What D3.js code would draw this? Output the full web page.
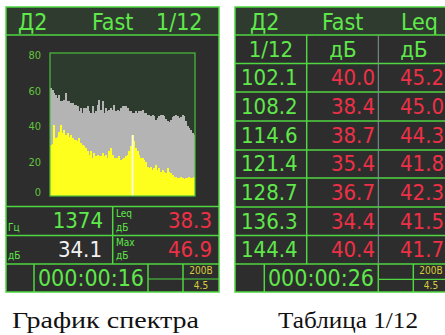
<!DOCTYPE html>
<html>
<head>
<meta charset="utf-8">
<script src="https://cdn.jsdelivr.net/npm/d3@7"></script>
<style>
  html, body { margin: 0; padding: 0; background: #ffffff; }
  svg { display: block; }
</style>
</head>
<body>
<svg id="chart" width="445" height="335"></svg>
<script>
// ---- spectrum data (1/12 octave bands, dB) ----
const yTicks = [0, 20, 40, 60, 80];
const maxLevels = [
  60.7, 59.7, 57.9, 56.9, 55.0, 56.9, 53.1, 53.1, 54.1, 57.9,
  53.1, 53.1, 52.2, 52.2, 51.3, 51.3, 50.3, 47.5, 49.4, 46.6,
  49.4, 49.4, 50.3, 47.5, 46.6, 50.3, 46.6, 47.5, 51.3, 54.1,
  48.5, 53.1, 46.6, 49.4, 47.5, 48.5, 49.4, 48.5, 51.3, 47.5,
  48.5, 47.5, 49.4, 50.3, 50.7, 50.3, 49.4, 47.5, 47.5, 46.6,
  46.6, 47.5, 46.6, 47.5, 47.5, 48.5, 46.6, 46.6, 45.6, 45.6,
  44.7, 45.6, 44.7, 42.8, 43.8, 44.7, 45.6, 45.6, 44.7, 43.2,
  41.9, 41.3, 42.8, 44.3, 45.1, 45.6, 45.1, 43.8, 44.3, 45.6,
  44.7, 41.9, 39.1, 38.1, 37.2, 35.3, 34.4
];
const currentLevels = [
  28.7, 29.3, 40.0, 32.5, 33.4, 36.2, 40.0, 35.3, 37.2, 34.4,
  35.3, 33.4, 34.4, 32.5, 31.5, 31.5, 30.6, 32.5, 29.7, 28.7,
  27.8, 26.9, 25.0, 23.1, 25.0, 21.2, 24.0, 22.2, 23.1, 22.2,
  22.2, 24.0, 22.2, 23.1, 21.2, 25.0, 26.9, 23.1, 21.2, 21.2,
  21.2, 22.2, 20.3, 20.7, 21.2, 22.2, 23.1, 25.0, 27.8, 34.1,
  30.6, 26.9, 25.0, 23.1, 21.2, 21.2, 20.3, 19.3, 16.5, 15.6,
  16.5, 14.6, 15.6, 17.5, 14.6, 15.6, 13.7, 14.6, 13.7, 12.8,
  15.6, 13.7, 12.8, 11.8, 10.9, 10.9, 10.0, 10.0, 10.9, 10.0,
  9.4, 10.0, 10.0, 10.5, 10.0, 10.0, 10.5
];
const cursorBand = 49;
const cursorFreq = "1374";
const cursorLevel = "34.1";
const leqLevel = "38.3";
const maxLevel = "46.9";
const spectrumTime = "000:00:16";

// ---- table data ----
const tableFreqs = ["102.1", "108.2", "114.6", "121.4", "128.7", "136.3", "144.4"];
const tableFast  = ["40.0", "38.4", "38.7", "35.4", "36.7", "34.4", "40.4"];
const tableLeq   = ["45.2", "45.0", "44.3", "41.8", "42.3", "41.5", "41.7"];
const tableTime = "000:00:26";

const battery = "200B";
const voltage = "4.5";

// ---- palette ----
const C = {
  frame: "#4fd641",
  header: "#2f3b2f",
  panel: "#2d2d2d",
  plot: "#2c3b2d",
  green: "#5fe84a",
  red: "#ee3046",
  white: "#f2f2f2",
  grey: "#b4b4b4",
  yellow: "#ffff1e",
  small: "#d8cc3a",
  tick: "#62c33c",
  divider: "#7f9b94"
};
const DISPLAY_FONT = '"DejaVu Sans Condensed", "DejaVu Sans", sans-serif';
const CAPTION_FONT = '"Liberation Serif", "DejaVu Serif", "Times New Roman", serif';

const svg = d3.select("#chart");

function line(g, x1, y1, x2, y2, color, w) {
  g.append("line").attr("x1", x1).attr("y1", y1).attr("x2", x2).attr("y2", y2)
    .attr("stroke", color || C.frame).attr("stroke-width", w || 1.5);
}
function text(g, x, y, str, size, color, anchor, family) {
  return g.append("text").attr("x", x).attr("y", y)
    .attr("font-family", family || DISPLAY_FONT)
    .attr("font-stretch", family ? null : "condensed")
    .attr("font-size", size).attr("fill", color).attr("text-anchor", anchor || "start").text(str);
}

// ================= left panel: spectrum =================
const L = svg.append("g");
const lx0 = 6, lx1 = 219, panelTop = 7, hdrB = 35, chartB = 206.5, r1 = 235.5, r2 = 264, bot = 292;

L.append("rect").attr("x", lx0).attr("y", panelTop).attr("width", lx1 - lx0).attr("height", bot - panelTop).attr("fill", C.panel);
L.append("rect").attr("x", lx0).attr("y", panelTop).attr("width", lx1 - lx0).attr("height", hdrB - panelTop).attr("fill", C.header);

text(L, 18, 30, "Д2", 23, C.green);
text(L, 92, 30, "Fast", 23, C.green);
text(L, 156, 30, "1/12", 23, C.green);

// plot area
const plot = { x0: 50, x1: 195, y0: 53, y1: 196 };
L.append("rect").attr("x", plot.x0).attr("y", plot.y0).attr("width", plot.x1 - plot.x0)
  .attr("height", plot.y1 - plot.y0).attr("fill", C.plot);

const x = d3.scaleBand().domain(d3.range(maxLevels.length)).range([plot.x0, plot.x1]).padding(0);
const y = d3.scaleLinear().domain([0, 80]).range([plot.y1, plot.y0 + 0.5]);

const bars = L.append("g").attr("shape-rendering", "crispEdges");
bars.selectAll("rect.max").data(maxLevels).join("rect").attr("class", "max")
  .attr("x", (d, i) => x(i)).attr("width", x.bandwidth() + 0.4)
  .attr("y", d => y(d)).attr("height", d => y(0) - y(d)).attr("fill", C.grey);
bars.selectAll("rect.cur").data(currentLevels).join("rect").attr("class", "cur")
  .attr("x", (d, i) => x(i)).attr("width", x.bandwidth() + 0.4)
  .attr("y", d => y(d)).attr("height", d => y(0) - y(d)).attr("fill", C.yellow);

// cursor
L.append("rect").attr("x", x(cursorBand)).attr("width", x.bandwidth())
  .attr("y", y(+cursorLevel)).attr("height", y(0) - y(+cursorLevel)).attr("fill", "#ffffff");

L.append("rect").attr("x", plot.x0).attr("y", plot.y0).attr("width", plot.x1 - plot.x0)
  .attr("height", plot.y1 - plot.y0).attr("fill", "none").attr("stroke", "#48c23a").attr("stroke-width", 1.2);

// y tick labels
const axis = d3.axisLeft(y).tickValues(yTicks).tickSize(0).tickPadding(9);
const ag = L.append("g").attr("transform", `translate(${plot.x0},0)`).call(axis);
ag.select(".domain").remove();
ag.selectAll("text").attr("font-family", DISPLAY_FONT).attr("fill", C.tick).attr("font-size", 11)
  .attr("dy", d => d === 0 ? "-0.05em" : "0.45em");

// stat rows
text(L, 8, 231, "Гц", 10, C.green);
text(L, 103, 228, cursorFreq, 22, C.green, "end");
text(L, 116, 217, "Leq", 10, C.green);
text(L, 116, 231, "дБ", 10, C.green);
text(L, 212, 228, leqLevel, 22, C.red, "end");

text(L, 8, 259, "дБ", 10, C.green);
text(L, 102, 257, cursorLevel, 22, C.white, "end");
text(L, 116, 246, "Max", 10, C.green);
text(L, 116, 259, "дБ", 10, C.green);
text(L, 212, 257, maxLevel, 22, C.red, "end");

text(L, 91, 286, spectrumTime, 23, C.green, "middle");
text(L, 201, 274, battery, 10, C.small, "middle");
text(L, 201, 289, voltage, 10, C.small, "middle");

// grid lines
line(L, lx0, hdrB, lx1, hdrB);
line(L, lx0, chartB, lx1, chartB);
line(L, lx0, r1, lx1, r1);
line(L, lx0, r2, lx1, r2);
line(L, 112.7, chartB, 112.7, r2);
line(L, 34, r2, 34, bot);
line(L, 148, r2, 148, bot);
line(L, 183, r2, 183, bot);
line(L, 148, 279, lx1, 279, C.frame, 1.2);
L.append("rect").attr("x", lx0).attr("y", panelTop).attr("width", lx1 - lx0).attr("height", bot - panelTop)
  .attr("fill", "none").attr("stroke", C.frame).attr("stroke-width", 1.5);

// ================= right panel: table =================
const R = svg.append("g");
const rx0 = 235, rx1 = 450;
const rowLines = [35, 63.5, 92, 121, 150, 178, 207, 235.5, 264];
const colA = 306.7, colB = 378.3;

R.append("rect").attr("x", rx0).attr("y", panelTop).attr("width", rx1 - rx0).attr("height", bot - panelTop).attr("fill", C.panel);
R.append("rect").attr("x", rx0).attr("y", panelTop).attr("width", rx1 - rx0).attr("height", hdrB - panelTop).attr("fill", C.header);

text(R, 250, 30, "Д2", 23, C.green);
text(R, 322, 30, "Fast", 23, C.green);
text(R, 401, 30, "Leq", 23, C.green);

text(R, 271, 57, "1/12", 22, C.green, "middle");
text(R, 343, 57, "дБ", 22, C.green, "middle");
text(R, 414, 57, "дБ", 22, C.green, "middle");

tableFreqs.forEach((f, i) => {
  const b = rowLines[i + 2] - 7;
  text(R, 241, b, f, 22, C.green, "start");
  text(R, 375, b, tableFast[i], 22, C.red, "end");
  text(R, 400, b, tableLeq[i], 22, C.red, "start");
});

text(R, 321, 286, tableTime, 23, C.green, "middle");
text(R, 431, 274, battery, 10, C.small, "middle");
text(R, 431, 289, voltage, 10, C.small, "middle");

rowLines.forEach(v => line(R, rx0, v, rx1, v));
line(R, colA, hdrB, colA, r2);
line(R, colB, hdrB, colB, r2, C.divider, 1);
line(R, 264.3, r2, 264.3, bot);
line(R, colB, r2, colB, bot);
line(R, 413.3, r2, 413.3, bot);
line(R, colB, 279.3, rx1, 279.3, C.frame, 1.2);
R.append("rect").attr("x", rx0).attr("y", panelTop).attr("width", rx1 - rx0).attr("height", bot - panelTop)
  .attr("fill", "none").attr("stroke", C.frame).attr("stroke-width", 1.5);

// ================= captions =================
text(svg, 105.5, 328, "График спектра", 24, "#111111", "middle", CAPTION_FONT)
  .attr("textLength", 187).attr("lengthAdjust", "spacingAndGlyphs");
text(svg, 348, 328, "Таблица 1/12", 24, "#111111", "middle", CAPTION_FONT)
  .attr("textLength", 140).attr("lengthAdjust", "spacingAndGlyphs");
</script>
</body>
</html>
